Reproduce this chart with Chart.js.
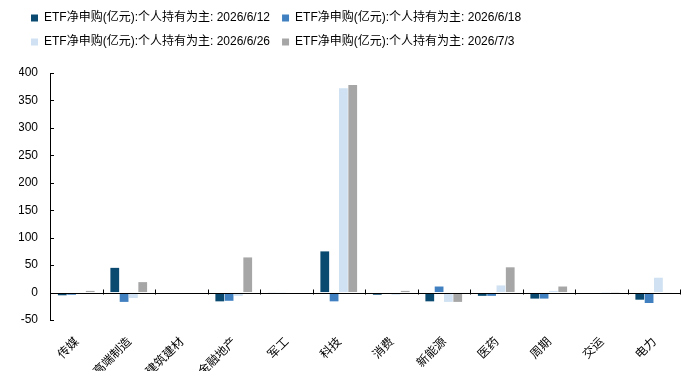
<!DOCTYPE html>
<html>
<head>
  <meta charset="UTF-8">
  <title>ETF净申购</title>
  <script src="https://cdn.jsdelivr.net/npm/chart.js"></script>
  <style>
    html, body { margin: 0; padding: 0; background: #fff; }
    #wrap { width: 692px; height: 371px; }
  </style>
</head>
<body>
  <div id="wrap"><canvas id="myChart"></canvas></div>

  <script>
    // 行业
    const categories = ['传媒', '高端制造', '建筑建材', '金融地产', '军工', '科技', '消费', '新能源', '医药', '周期', '交运', '电力'];
    const seriesNames = [
      'ETF净申购(亿元):个人持有为主: 2026/6/12',
      'ETF净申购(亿元):个人持有为主: 2026/6/18',
      'ETF净申购(亿元):个人持有为主: 2026/6/26',
      'ETF净申购(亿元):个人持有为主: 2026/7/3'
    ];
    const d0612 = [-5, 45, -2, -16, 1, 75, -4, -16, -6, -11, -1, -13];
    const d0618 = [-4, -17, -2, -15, 1, -16, -2, 11, -6, -11, -1, -19];
    const d0626 = [-2, -10, -1, -6, -2, 372, -4, -17, 13, 3, 0.3, 27];
    const d0703 = [3, 19, -1, 64, -2, 378, 3, -17, 46, 11, 0.5, 1];
    const yTicks = { min: -50, max: 400, step: 50 };

    const colors = ['#0a4a70', '#4080c0', '#cfe1f2', '#a6a6a6'];
    const latin = "'Liberation Sans Narrow', 'Liberation Sans', Arial, 'Noto Sans CJK SC', sans-serif";

    // 零轴 + 向内的刻度线
    const axisMarks = {
      id: 'axisMarks',
      afterDatasetsDraw(chart) {
        const { ctx, chartArea, scales: { x, y } } = chart;
        ctx.save();
        ctx.strokeStyle = '#000';
        ctx.lineWidth = 1;
        const y0 = Math.round(y.getPixelForValue(0)) + 0.5;
        ctx.beginPath();
        ctx.moveTo(chartArea.left, y0);
        ctx.lineTo(chartArea.right, y0);
        y.ticks.forEach(t => {
          const py = Math.round(y.getPixelForValue(t.value)) + 0.5;
          ctx.moveTo(chartArea.left, py);
          ctx.lineTo(chartArea.left + 4, py);
        });
        const half = (x.getPixelForValue(1) - x.getPixelForValue(0)) / 2;
        for (let i = 0; i <= categories.length; i++) {
          const px = Math.round(x.getPixelForValue(i) - half) + 0.5;
          ctx.moveTo(px, y0 + 1);
          ctx.lineTo(px, y0 - 4);
        }
        ctx.stroke();
        ctx.restore();
      }
    };

    const legendGap = {
      id: 'legendGap',
      beforeInit(chart) {
        const fit = chart.legend.fit;
        chart.legend.fit = function () {
          fit.bind(chart.legend)();
          this.height += 15;
        };
      }
    };

    const data = [d0612, d0618, d0626, d0703];

    new Chart(document.getElementById('myChart'), {
      type: 'bar',
      data: {
        labels: categories,
        datasets: data.map((d, i) => ({
          label: seriesNames[i],
          data: d,
          backgroundColor: colors[i],
          borderWidth: 0,
          categoryPercentage: 0.71,
          barPercentage: 0.94
        }))
      },
      options: {
        responsive: true,
        maintainAspectRatio: false,
        animation: false,
        layout: { padding: { left: 19, right: 12, top: 0, bottom: 0 } },
        plugins: {
          tooltip: { enabled: false },
          legend: {
            position: 'top',
            align: 'start',
            labels: {
              boxWidth: 7,
              boxHeight: 7,
              padding: 12,
              color: '#000',
              font: { family: latin, size: 12 }
            }
          }
        },
        scales: {
          x: {
            afterFit(scale) { scale.height = 51; },
            grid: { display: false },
            border: { display: false },
            ticks: {
              color: '#000',
              minRotation: 45,
              maxRotation: 45,
              autoSkip: false,
              padding: 6,
              font: { family: "'Noto Sans CJK SC', sans-serif", size: 12 }
            }
          },
          y: {
            min: yTicks.min,
            max: yTicks.max,
            afterFit(scale) { scale.width = 31; },
            grid: { drawOnChartArea: false, drawTicks: false },
            border: { color: '#000', width: 1 },
            ticks: {
              stepSize: yTicks.step,
              color: '#000',
              padding: 12,
              font: { family: latin, size: 12 }
            }
          }
        }
      },
      plugins: [axisMarks, legendGap]
    });
  </script>
</body>
</html>
